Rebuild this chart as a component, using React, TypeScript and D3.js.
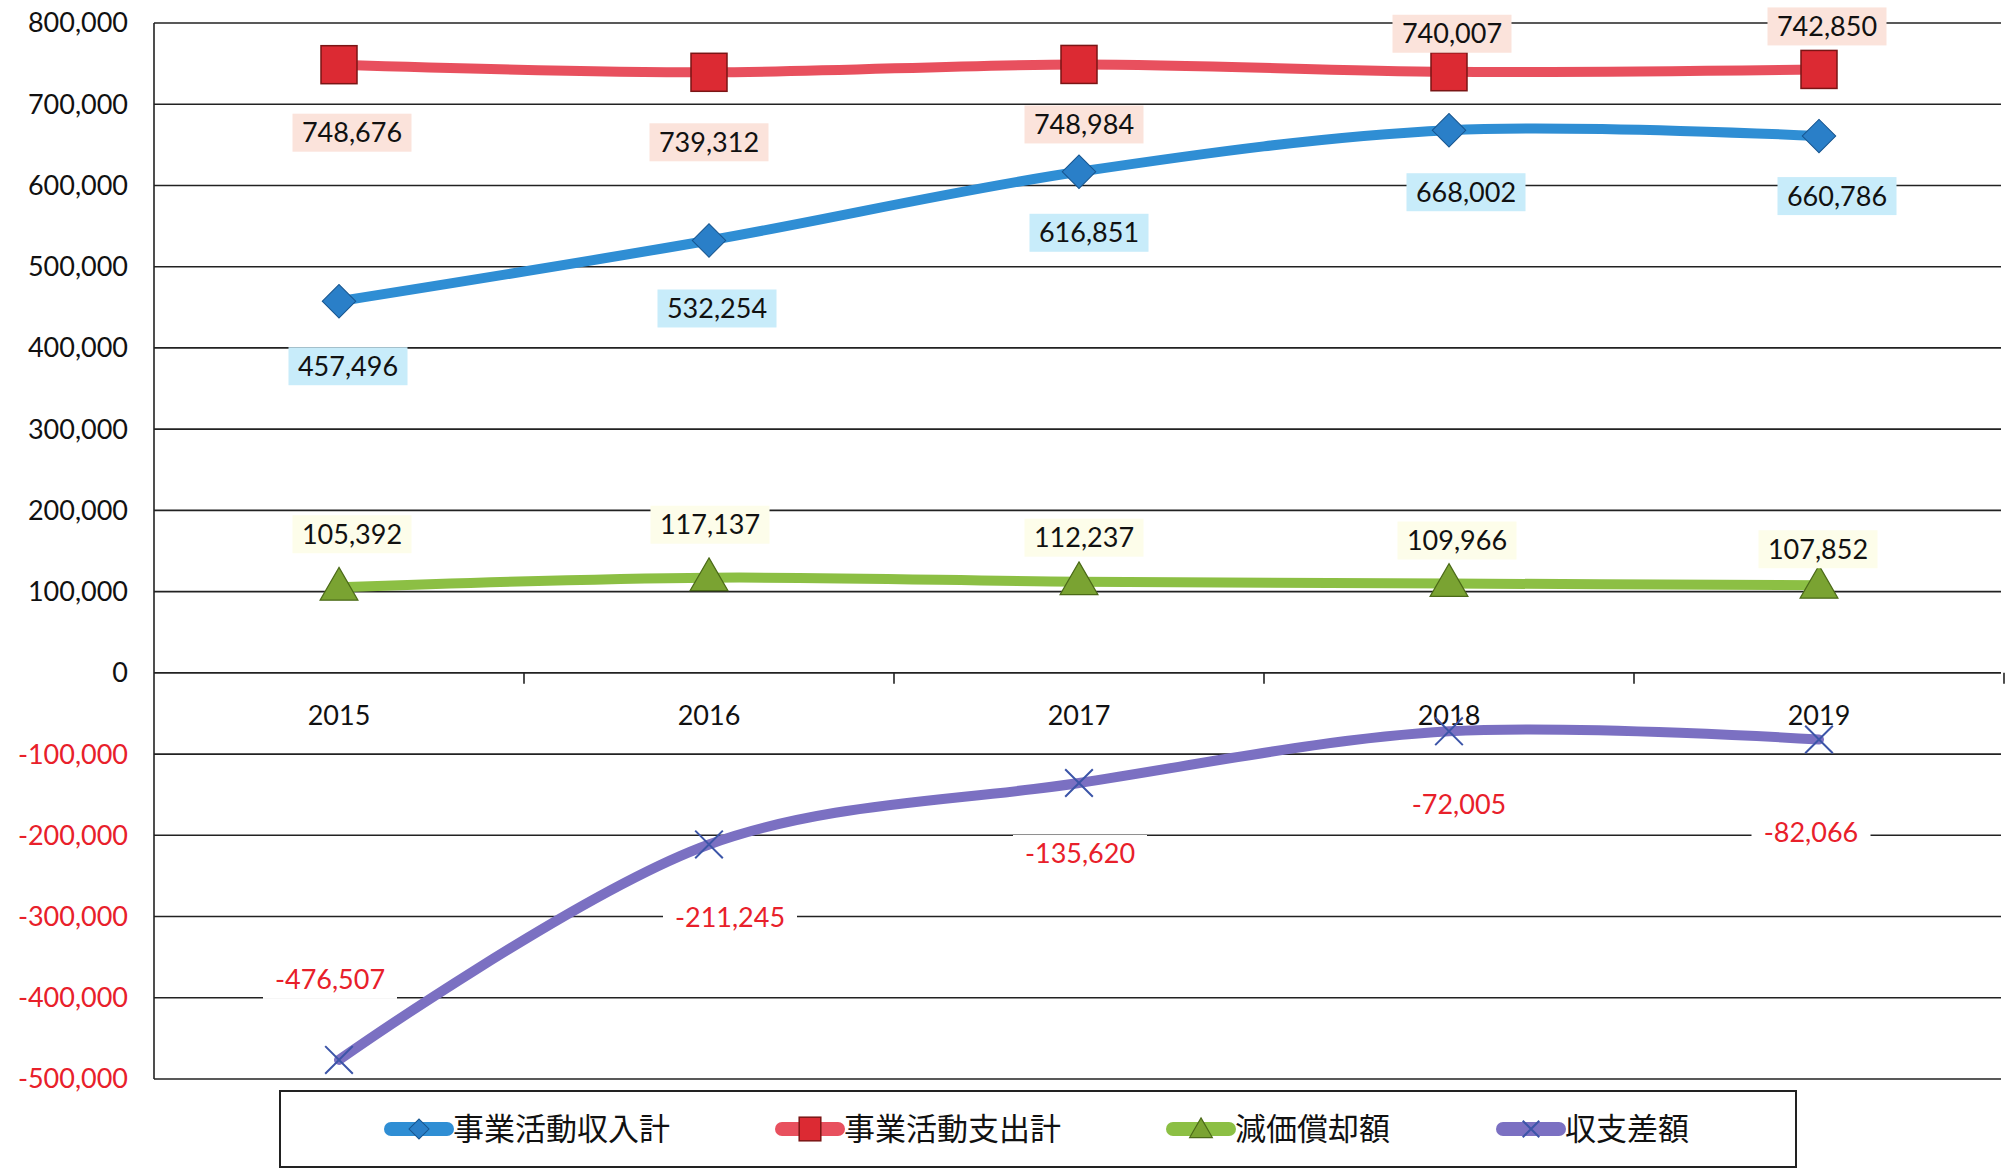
import React from "react";
import * as d3 from "d3";

const years = ["2015", "2016", "2017", "2018", "2019"];
const income = [457496, 532254, 616851, 668002, 660786];
const expense = [748676, 739312, 748984, 740007, 742850];
const depreciation = [105392, 117137, 112237, 109966, 107852];
const balance = [-476507, -211245, -135620, -72005, -82066];
const yTicks = [800000, 700000, 600000, 500000, 400000, 300000, 200000, 100000, 0, -100000, -200000, -300000, -400000, -500000];
const legendNames = ["事業活動収入計", "事業活動支出計", "減価償却額", "収支差額"];

// where each data label sits relative to its point (px)
const incomeLabelPos = [[9, 65], [8, 68], [10, 61], [17, 62], [18, 60]];
const expenseLabelPos = [[13, 68], [0, 70], [5, 60], [3, -38], [8, -43]];
const deprLabelPos = [[13, -53], [1, -53], [5, -44], [8, -43], [-1, -36]];
const balanceLabelPos = [[-9, -80], [21, 73], [1, 71], [10, 73], [-8, 93]];

const W = 2011;
const H = 1170;
const left = 154;
const right = 2004;
const top = 23;
const bottom = 1079;
const font = "Lato, 'Open Sans', sans-serif";
const cjk = "'Noto Sans CJK JP', sans-serif";

const fmt = d3.formatLocale({
  decimal: ".",
  thousands: ",",
  grouping: [3],
  currency: ["", ""],
  minus: "-",
}).format(",");

const series = [
  { name: legendNames[0], values: income, line: "#2f8ed4", marker: "diamond", fill: "#2a7fc8", edge: "#17558f", lbl: incomeLabelPos, bg: "#c8ecfa", txt: "#111" },
  { name: legendNames[1], values: expense, line: "#e8505e", marker: "square", fill: "#dc2a33", edge: "#7a1515", lbl: expenseLabelPos, bg: "#fbe3db", txt: "#111" },
  { name: legendNames[2], values: depreciation, line: "#8cbf44", marker: "triangle", fill: "#7aa332", edge: "#4b6a18", lbl: deprLabelPos, bg: "#fdfdea", txt: "#111" },
  { name: legendNames[3], values: balance, line: "#7b70c2", marker: "x", fill: "none", edge: "#3c55a8", lbl: balanceLabelPos, bg: "#ffffff", txt: "#e8202a" },
];

function Marker({ kind, x, y, fill, edge, scale = 1 }: any) {
  if (kind === "diamond") {
    const p = d3.symbol(d3.symbolSquare, 560 * scale * scale)();
    return <path d={p!} transform={`translate(${x},${y}) rotate(45)`} fill={fill} stroke={edge} strokeWidth={1} />;
  }
  if (kind === "square") {
    const s = 36 * scale;
    return <rect x={x - s / 2} y={y - s / 2 - 1} width={s} height={s + 2} fill={fill} stroke={edge} strokeWidth={1.5} />;
  }
  if (kind === "triangle") {
    const p = d3.symbol(d3.symbolTriangle, 620 * scale * scale)();
    return <path d={p!} transform={`translate(${x},${y + 2})`} fill={fill} stroke={edge} strokeWidth={1.2} />;
  }
  const p = d3.symbol(d3.symbolTimes, 500 * scale * scale)();
  return <path d={p!} transform={`translate(${x},${y})`} fill="none" stroke={edge} strokeWidth={2} />;
}

export default function App() {
  const x = d3.scaleBand().domain(years).range([left, right]);
  const y = d3.scaleLinear().domain([-500000, 800000]).range([bottom, top]);
  const cx = (yr: string) => (x(yr) as number) + x.bandwidth() / 2;
  const line = d3
    .line<number>()
    .x((_, i) => cx(years[i]))
    .y((d) => y(d))
    .curve(d3.curveCatmullRom.alpha(0.5));

  const boundaries = years.map((yr) => (x(yr) as number) + x.bandwidth());
  const legendX = [391, 782, 1173, 1503];

  return (
    <svg width={W} height={H} style={{ position: "absolute", left: 0, top: 0, background: "#fff" }}>
      {/* grid */}
      {yTicks.map((t) => (
        <line key={t} x1={left} x2={right - 3} y1={y(t)} y2={y(t)} stroke="#222" strokeWidth={1.6} />
      ))}
      <line x1={left} x2={left} y1={top} y2={bottom} stroke="#222" strokeWidth={1.6} />
      {boundaries.map((b) => (
        <line key={b} x1={b} x2={b} y1={y(0)} y2={y(0) + 11} stroke="#222" strokeWidth={1.6} />
      ))}
      {/* y tick labels */}
      {yTicks.map((t) => (
        <text key={t} x={128} y={y(t)} dy="0.35em" textAnchor="end" fontFamily={font} fontSize={27} fill={t < 0 ? "#e8202a" : "#111"}>
          {fmt(t)}
        </text>
      ))}
      {/* category labels */}
      {years.map((yr) => (
        <text key={yr} x={cx(yr)} y={y(0) + 52} textAnchor="middle" fontFamily={font} fontSize={27} fill="#111">
          {yr}
        </text>
      ))}
      {/* series */}
      {series.map((s) => (
        <path key={s.name} d={line(s.values)!} fill="none" stroke={s.line} strokeWidth={10} strokeLinecap="round" strokeLinejoin="round" />
      ))}
      {series.map((s) =>
        s.values.map((v, i) => (
          <Marker key={s.name + i} kind={s.marker} x={cx(years[i])} y={y(v)} fill={s.fill} edge={s.edge} />
        ))
      )}
      {/* data labels */}
      {series.map((s) =>
        s.values.map((v, i) => {
          const label = fmt(v);
          const lx = cx(years[i]) + s.lbl[i][0];
          const ly = y(v) + s.lbl[i][1];
          const w = label.length * 15 + 14;
          return (
            <g key={s.name + "l" + i}>
              <rect x={lx - w / 2} y={ly - 19} width={w} height={38} fill={s.bg} />
              <text x={lx} y={ly} dy="0.35em" textAnchor="middle" fontFamily={font} fontSize={27} fill={s.txt}>
                {label}
              </text>
            </g>
          );
        })
      )}
      {/* legend */}
      <rect x={280} y={1091} width={1516} height={76} fill="#fff" stroke="#222" strokeWidth={2} />
      {series.map((s, i) => (
        <g key={s.name + "leg"}>
          <line x1={legendX[i]} x2={legendX[i] + 56} y1={1129} y2={1129} stroke={s.line} strokeWidth={14} strokeLinecap="round" />
          <Marker kind={s.marker} x={legendX[i] + 28} y={1129} fill={s.fill} edge={s.edge} scale={0.6} />
          <text x={legendX[i] + 62} y={1129} dy="0.35em" fontFamily={cjk} fontSize={31} fill="#111">
            {s.name}
          </text>
        </g>
      ))}
    </svg>
  );
}
